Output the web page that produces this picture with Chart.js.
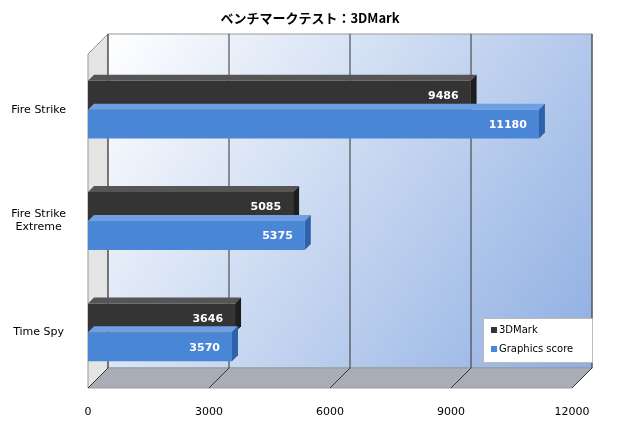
<!DOCTYPE html>
<html><head><meta charset="utf-8">
<script src="https://cdn.jsdelivr.net/npm/chart.js@4/dist/chart.umd.min.js"></script>
<style>html,body{margin:0;background:#fff}#w{width:620px;height:430px}</style>
</head><body><div id="w"><canvas id="c"></canvas></div>
<script>
const categories = [["Fire Strike"], ["Fire Strike", "Extreme"], ["Time Spy"]];
const seriesNames = ["3DMark", "Graphics score"];
const score3DMark = [9486, 5085, 3646];
const graphicsScore = [11180, 5375, 3570];
const xTicks = [0, 3000, 6000, 9000, 12000];
const title = "ベンチマークテスト：3DMark";

const DX = 20, DY = -20, BD = 6;
const front = ["#343434", "#4a86d6"], topc = ["#555", "#6d9fe2"], side = ["#1e1e1e", "#2f62a8"];

const deco = {
  id: "deco",
  beforeDatasetsDraw(ch) {
    const {ctx, chartArea: a, scales: {x}} = ch;
    ctx.save();
    ctx.fillStyle = "#e4e4e4"; ctx.strokeStyle = "#999"; ctx.lineWidth = 1;
    ctx.beginPath(); ctx.moveTo(a.left, a.top); ctx.lineTo(a.left + DX, a.top + DY);
    ctx.lineTo(a.left + DX, a.bottom + DY); ctx.lineTo(a.left, a.bottom); ctx.closePath(); ctx.fill(); ctx.stroke();
    const g = ctx.createLinearGradient(a.left + DX, a.top + DY, a.right + DX, a.bottom + DY);
    g.addColorStop(0, "#ffffff"); g.addColorStop(1, "#8eaee2");
    ctx.fillStyle = g;
    ctx.fillRect(a.left + DX, a.top + DY, a.right - a.left, a.bottom - a.top);
    ctx.strokeRect(a.left + DX, a.top + DY, a.right - a.left, a.bottom - a.top);
    ctx.fillStyle = "#a9adb6";
    ctx.beginPath(); ctx.moveTo(a.left, a.bottom); ctx.lineTo(a.left + DX, a.bottom + DY);
    ctx.lineTo(a.right + DX, a.bottom + DY); ctx.lineTo(a.right, a.bottom); ctx.closePath(); ctx.fill(); ctx.stroke();
    ctx.strokeStyle = "#333";
    xTicks.forEach(v => {
      const px = x.getPixelForValue(v) + DX;
      ctx.beginPath(); ctx.moveTo(px, a.top + DY); ctx.lineTo(px, a.bottom + DY); ctx.stroke();
      ctx.beginPath(); ctx.moveTo(px - DX, a.bottom); ctx.lineTo(px, a.bottom + DY); ctx.stroke();
    });
    ctx.restore();
  },
  afterDatasetsDraw(ch) {
    const {ctx} = ch;
    ctx.save();
    ch.data.datasets.forEach((ds, di) => {
      ch.getDatasetMeta(di).data.forEach((b, i) => {
        const t = b.y - b.height / 2, bt = b.y + b.height / 2, l = b.base, r = b.x;
        ctx.fillStyle = topc[di];
        ctx.beginPath(); ctx.moveTo(l, t); ctx.lineTo(l + BD, t - BD); ctx.lineTo(r + BD, t - BD); ctx.lineTo(r, t); ctx.closePath(); ctx.fill();
        ctx.fillStyle = side[di];
        ctx.beginPath(); ctx.moveTo(r, t); ctx.lineTo(r + BD, t - BD); ctx.lineTo(r + BD, bt - BD); ctx.lineTo(r, bt); ctx.closePath(); ctx.fill();
        ctx.fillStyle = "#fff"; ctx.font = "bold 11px 'DejaVu Sans'"; ctx.textAlign = "right"; ctx.textBaseline = "middle";
        ctx.fillText(ds.data[i], r - 12, b.y + 1);
      });
    });
    ctx.fillStyle = "#000"; ctx.font = "bold 13px 'Noto Sans CJK JP'"; ctx.textAlign = "center"; ctx.textBaseline = "middle";
    ctx.fillText(title, 310, 18);
    ctx.fillStyle = "#fff"; ctx.strokeStyle = "#bbb";
    ctx.fillRect(483, 318, 109, 44); ctx.strokeRect(483.5, 318.5, 109, 44);
    ctx.font = "10px 'DejaVu Sans'"; ctx.textAlign = "left"; ctx.fillStyle = "#000";
    seriesNames.forEach((n, k) => {
      const y = 330 + k * 19;
      ctx.fillStyle = front[k]; ctx.fillRect(491, y - 3, 6, 6);
      ctx.fillStyle = "#000"; ctx.fillText(n, 499, y);
    });
    ctx.restore();
  }
};

new Chart(document.getElementById("c"), {
  type: "bar",
  data: {
    labels: categories,
    datasets: [
      {label: seriesNames[0], data: score3DMark, backgroundColor: front[0]},
      {label: seriesNames[1], data: graphicsScore, backgroundColor: front[1]}
    ]
  },
  options: {
    indexAxis: "y", responsive: true, maintainAspectRatio: false, animation: false,
    layout: {padding: {top: 54, right: 48, left: 8, bottom: 0}},
    datasets: {bar: {categoryPercentage: 0.52, barPercentage: 1}},
    plugins: {legend: {display: false}, tooltip: {enabled: false}},
    scales: {
      x: {min: 0, max: 12000, grid: {display: false}, border: {display: false},
          afterBuildTicks: s => { s.ticks = xTicks.map(v => ({value: v})); },
          afterFit: s => { s.height = 42; },
          ticks: {color: "#000", font: {family: "DejaVu Sans", size: 11}, padding: 10, callback: v => String(v)}},
      y: {grid: {display: false}, border: {display: false},
          afterFit: s => { s.width = 80; },
          ticks: {color: "#000", font: {family: "DejaVu Sans", size: 11}, padding: 14, crossAlign: "center"}}
    }
  },
  plugins: [deco]
});
</script></body></html>
